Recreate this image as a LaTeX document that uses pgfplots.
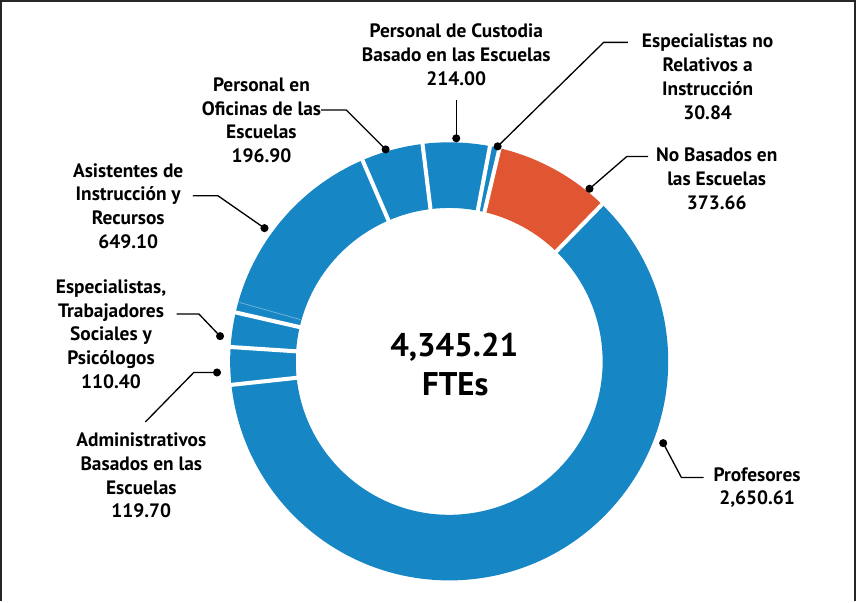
\documentclass[border=0pt]{standalone}
\usepackage{pgfplots}
\pgfplotsset{compat=1.18}
\usepackage{pgfplotstable}
\usepackage{fontspec}
\setmainfont{PT Sans}
\definecolor{blueFTE}{RGB}{22,134,196}
\definecolor{orangeFTE}{RGB}{224,86,50}

% FTEs by category, clockwise from the top
\pgfplotstableread[col sep=comma]{
label,value
Custodia,214.00
Relativos,30.84
NoBasados,373.66
Profesores,2650.61
Administrativos,119.70
Especialistas,110.40
Asistentes,649.10
Oficinas,196.90
}\fte

\begin{document}
\begin{tikzpicture}
\begin{axis}[
  x=1pt, y=1pt,
  xmin=0, xmax=856, ymin=0, ymax=600,
  hide axis, clip=false,
  disabledatascaling,
]
% donut sectors
\xdef\cumA{97.0}
\pgfplotsforeachungrouped \i in {0,...,7}{%
  \pgfplotstablegetelem{\i}{value}\of{\fte}\let\segV\pgfplotsretval
  \pgfmathsetmacro\angB{\cumA-(\segV/4345.21)*360}
  \ifnum\i=2 \def\segC{orangeFTE}\else\def\segC{blueFTE}\fi
  \pgfmathsetmacro\xo{451+217*cos(\cumA)}
  \pgfmathsetmacro\yo{237+217*sin(\cumA)}
  \pgfmathsetmacro\xi{451+152*cos(\angB)}
  \pgfmathsetmacro\yi{237+152*sin(\angB)}
  \edef\temp{\noexpand\fill[\segC] (axis cs:\xo,\yo) arc[start angle=\cumA, end angle=\angB, radius=217pt] -- (axis cs:\xi,\yi) arc[start angle=\angB, end angle=\cumA, radius=152pt] -- cycle;}%
  \temp
  \xdef\cumA{\angB}%
}
% white separators
\xdef\cumA{97.0}
\pgfplotsforeachungrouped \i in {0,...,7}{%
  \pgfplotstablegetelem{\i}{value}\of{\fte}\let\segV\pgfplotsretval
  \pgfmathsetmacro\angB{\cumA-(\segV/4345.21)*360}
  \pgfmathsetmacro\xo{451+220*cos(\cumA)}
  \pgfmathsetmacro\yo{237+220*sin(\cumA)}
  \pgfmathsetmacro\xi{451+149*cos(\cumA)}
  \pgfmathsetmacro\yi{237+149*sin(\cumA)}
  \edef\temp{\noexpand\draw[white, line width=4pt] (axis cs:\xi,\yi) -- (axis cs:\xo,\yo);}%
  \temp
  \xdef\cumA{\angB}%
}
% faint hairline inside the Asistentes sector
\draw[white, opacity=0.4, line width=0.7pt] (axis cs:{451+153*cos(164.3)},{237+153*sin(164.3)}) -- (axis cs:{451+216*cos(164.3)},{237+216*sin(164.3)});

% frame
\draw[black!85, line width=2pt] (axis cs:7,0) -- (axis cs:7,594) -- (axis cs:853,594) -- (axis cs:853,0);

% centre text
\node[font=\fontsize{32.5}{40}\selectfont\bfseries] at (axis cs:456,251) {4,345.21};
\node[font=\fontsize{32.5}{40}\selectfont\bfseries] at (axis cs:457,214) {FTEs};

% leader lines
\begin{scope}[line width=1.3pt, black]
\draw (axis cs:458,496) -- (axis cs:458,458);
\fill (axis cs:458,458) circle[radius=4pt];
\draw (axis cs:499,450) -- (axis cs:604,553) -- (axis cs:628,553);
\fill (axis cs:499,450) circle[radius=4pt];
\draw (axis cs:590,408) -- (axis cs:627,440) -- (axis cs:648,440);
\fill (axis cs:590,408) circle[radius=4pt];
\draw (axis cs:663,156) -- (axis cs:681,122) -- (axis cs:703,122);
\fill (axis cs:663,156) circle[radius=4pt];
\draw (axis cs:221,226) -- (axis cs:198,226) -- (axis cs:150,177);
\fill (axis cs:221,226) circle[radius=4pt];
\draw (axis cs:181,284) -- (axis cs:203,284) -- (axis cs:224,262);
\fill (axis cs:224,262) circle[radius=4pt];
\draw (axis cs:197,401) -- (axis cs:222,401) -- (axis cs:268,369);
\fill (axis cs:268,369) circle[radius=4pt];
\draw (axis cs:324,486) -- (axis cs:349,486) -- (axis cs:388,447);
\fill (axis cs:388,447) circle[radius=4pt];
\end{scope}

% labels
\tikzset{lab/.style={align=center, inner sep=0pt, font=\fontsize{19.2}{23.5}\selectfont\bfseries}}
\node[lab] at (axis cs:458,541) {Personal de Custodia\\Basado en las Escuelas\\214.00};
\node[lab] at (axis cs:707,519) {Especialistas no\\Relativos a\\Instrucción\\30.84};
\node[lab] at (axis cs:716,418) {No Basados en\\las Escuelas\\373.66};
\node[lab] at (axis cs:756,112) {Profesores\\2,650.61};
\node[lab] at (axis cs:146,124) {Administrativos\\Basados en las\\Escuelas\\119.70};
\node[lab] at (axis cs:116,264) {Especialistas,\\Trabajadores\\Sociales y\\Psicólogos\\110.40};
\node[lab] at (axis cs:133,391) {Asistentes de\\Instrucción y\\Recursos\\649.10};
\node[lab] at (axis cs:265,476) {Personal en\\Oficinas de las\\Escuelas\\196.90};
\end{axis}
\end{tikzpicture}
\end{document}
